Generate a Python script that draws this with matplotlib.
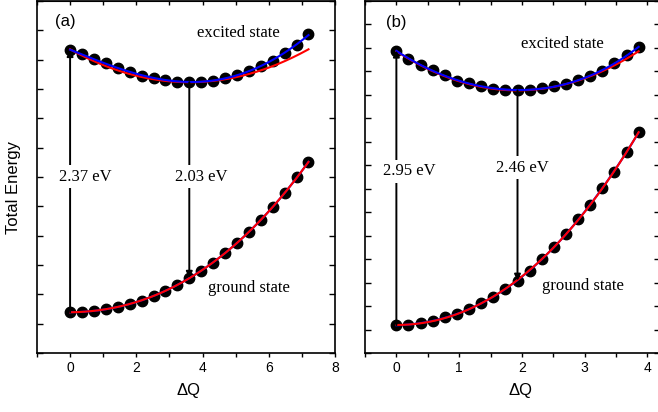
import numpy as np
import matplotlib.pyplot as plt

plt.rcParams['font.family'] = ['Liberation Sans', 'DejaVu Sans']

# configuration coordinate and total energies (arb. units) for the two cases
q_a = [0, 0.36, 0.72, 1.08, 1.44, 1.8, 2.16, 2.52, 2.88, 3.24, 3.6,
       3.96, 4.32, 4.68, 5.04, 5.4, 5.76, 6.12, 6.48, 6.84, 7.2]
exc_a = [10.33, 10.18, 10.01, 9.88, 9.73, 9.59, 9.45, 9.37, 9.30, 9.25, 9.23,
         9.25, 9.28, 9.39, 9.48, 9.63, 9.79, 9.97, 10.22, 10.49, 10.87]
gnd_a = [1.39, 1.40, 1.44, 1.49, 1.58, 1.67, 1.78, 1.95, 2.12, 2.32, 2.56,
         2.81, 3.08, 3.40, 3.76, 4.14, 4.53, 4.97, 5.44, 5.99, 6.51]

q_b = [0, 0.193, 0.386, 0.579, 0.772, 0.965, 1.158, 1.351, 1.544, 1.737, 1.93,
       2.123, 2.316, 2.509, 2.702, 2.895, 3.088, 3.281, 3.474, 3.667, 3.86]
exc_b = [12.89, 12.52, 12.28, 12.04, 11.83, 11.61, 11.50, 11.36, 11.27, 11.22, 11.19,
         11.22, 11.29, 11.36, 11.46, 11.63, 11.81, 12.03, 12.35, 12.68, 13.04]
gnd_b = [1.19, 1.19, 1.27, 1.38, 1.52, 1.66, 1.86, 2.12, 2.40, 2.72, 3.08,
         3.51, 3.99, 4.53, 5.07, 5.70, 6.31, 7.02, 7.73, 8.56, 9.41]

gaps_a = ['2.37 eV', '2.03 eV']
gaps_b = ['2.95 eV', '2.46 eV']

serif = 'Liberation Serif'


def panel(ax, q, exc, gnd, gaps, tag, xlim, ylim, xt, xt_lab,
          gap_pos, tag_pos, exc_pos, gnd_pos):
    q = np.array(q)
    exc = np.array(exc)
    gnd = np.array(gnd)
    imin = int(np.argmin(exc))
    q0, e0 = q[imin], exc[imin]
    qq = np.linspace(q[0], q[-1], 300)

    # harmonic fit about the excited-state minimum (red), anharmonic fit (blue)
    k = np.polyfit((q[:imin + 1] - q0) ** 2, exc[:imin + 1] - e0, 1)[0]
    red_e = e0 + k * (qq - q0) ** 2
    blue_e = np.polyval(np.polyfit(q, exc, 4), qq)
    red_g = np.polyval(np.polyfit(q, gnd, 3), qq)
    blue_g = np.polyval(np.polyfit(q, gnd, 4), qq)

    ax.plot(q, exc, 'o', color='black', ms=7.5, zorder=2)
    ax.plot(q, gnd, 'o', color='black', ms=7.5, zorder=2)
    ax.plot(qq, red_e, color='red', lw=1.5, zorder=3)
    ax.plot(qq, blue_e, color='blue', lw=1.5, zorder=4)
    ax.plot(qq, blue_g, color='blue', lw=1.5, zorder=3)
    ax.plot(qq, red_g, color='red', lw=1.5, zorder=4)

    # vertical transitions: absorption at q=0, emission at the excited minimum
    arrow = dict(arrowstyle='-|>', color='black', lw=1.4,
                 mutation_scale=9, shrinkA=0, shrinkB=0)
    ax.annotate('', xy=(q[0], exc[0]), xytext=(q[0], gnd[0]),
                arrowprops=arrow, zorder=5)
    ax.annotate('', xy=(q0, gnd[imin]), xytext=(q0, e0),
                arrowprops=arrow, zorder=5)
    box = dict(facecolor='white', edgecolor='none', pad=2.5)
    for lab, (x, y) in zip(gaps, gap_pos):
        ax.text(x, y, lab, family=serif, fontsize=12, ha='center',
                va='center', bbox=box, zorder=6)

    ax.text(*tag_pos, tag, fontsize=12, ha='center', va='center')
    ax.text(*exc_pos, 'excited state', family=serif, fontsize=12,
            ha='center', va='center')
    ax.text(*gnd_pos, 'ground state', family=serif, fontsize=12,
            ha='center', va='center')

    ax.set_xlim(*xlim)
    ax.set_ylim(*ylim)
    ax.set_xticks(xt)
    ax.set_xticklabels(xt_lab)
    ax.set_yticks(np.arange(ylim[0], ylim[1] + 1))
    ax.set_yticklabels([])
    ax.tick_params(axis='x', direction='out', length=3, width=1,
                   labelsize=10, pad=3)
    ax.tick_params(axis='y', direction='in', length=4.5, width=1,
                   right=True)
    top = ax.secondary_xaxis('top')
    top.set_xticks(xt)
    top.tick_params(direction='in', length=3, width=1, labeltop=False)
    for s in ax.spines.values():
        s.set_linewidth(1.2)
    ax.set_xlabel('ΔQ', fontsize=12, labelpad=6)


fig = plt.figure(figsize=(6.58, 4.12), dpi=100)
ax1 = fig.add_axes([0.0562, 0.1432, 0.4529, 0.8544])
ax2 = fig.add_axes([0.5547, 0.1432, 0.4483, 0.8544])

panel(ax1, q_a, exc_a, gnd_a, gaps_a, '(a)', (-1, 8), (0, 12),
      range(-1, 9), ['', '0', '', '2', '', '4', '', '6', '', '8'],
      [(0.45, 6.0), (3.96, 6.0)], (-0.15, 11.29), (5.07, 10.9), (5.4, 2.2))
panel(ax2, q_b, exc_b, gnd_b, gaps_b, '(b)', (-0.5, 4.2), (0, 15),
      np.arange(-0.5, 4.01, 0.5), ['', '0', '', '1', '', '2', '', '3', '', '4'],
      [(0.21, 7.75), (2.01, 7.89)], (0.0, 14.07), (2.65, 13.18), (2.97, 2.87))
ax2.xaxis.set_label_coords(0.526, -0.085)
ax1.xaxis.set_label_coords(0.51, -0.085)

fig.text(0.02, 0.544, 'Total Energy', rotation=90, fontsize=12,
         ha='center', va='center')

fig.savefig('out.png', dpi=100)
